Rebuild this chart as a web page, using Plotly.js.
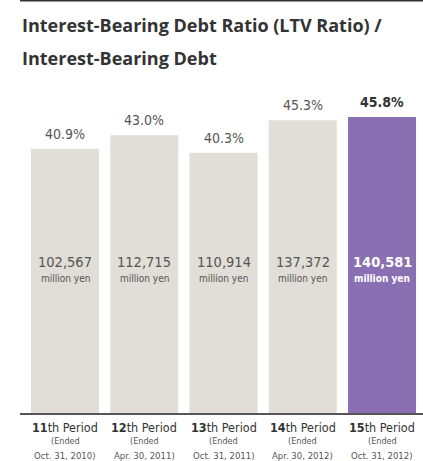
<!DOCTYPE html>
<html><head><meta charset="utf-8">
<script src="https://cdn.plot.ly/plotly-3.0.1.min.js"></script>
<style>html,body{margin:0;padding:0;background:#fff;}#chart{width:423px;height:461px;}</style>
</head><body><div id="chart"></div>
<script>
var periodNums = ["11", "12", "13", "14", "15"];
var endDates = ["Oct. 31, 2010", "Apr. 30, 2011", "Oct. 31, 2011", "Apr. 30, 2012", "Oct. 31, 2012"];
var ltvRatio = [40.9, 43.0, 40.3, 45.3, 45.8];
var debtMillionYen = [102567, 112715, 110914, 137372, 140581];
var titleLines = ["Interest-Bearing Debt Ratio (LTV Ratio) /", "Interest-Bearing Debt"];

var FONT = "'DejaVu Sans Condensed', 'Liberation Sans Narrow', 'Open Sans', sans-serif";
var TFONT = "'Open Sans', sans-serif";
var idx = periodNums.map(function(_, i){ return i; });
var last = idx.length - 1;
var colors = idx.map(function(i){ return i === last ? '#8a70b2' : '#e1ddd7'; });

var trace = {
  type: 'bar', x: idx, y: ltvRatio, width: 0.858,
  marker: {color: colors, line: {width: 0}},
  hoverinfo: 'none'
};

var ann = [];
titleLines.forEach(function(t, k){
  ann.push({x: 0, xref: 'paper', xanchor: 'left', y: k === 0 ? 1.2396 : 1.134, yref: 'paper', yanchor: 'middle',
    text: '<b>' + t + '</b>', showarrow: false,
    font: {family: TFONT, size: 18, color: '#333'}});
});
idx.forEach(function(i){
  var hl = i === last;
  ann.push({x: i, y: ltvRatio[i], xref: 'x', yref: 'y', yanchor: 'bottom', yshift: 5,
    text: hl ? '<b>' + ltvRatio[i].toFixed(1) + '%</b>' : ltvRatio[i].toFixed(1) + '%',
    showarrow: false, font: {family: FONT, size: 14, color: hl ? '#333' : '#555'}});
  ann.push({x: i, y: 0, xref: 'x', yref: 'y', yanchor: 'middle', yshift: 151,
    text: hl ? '<b>' + debtMillionYen[i].toLocaleString('en-US') + '</b>' : debtMillionYen[i].toLocaleString('en-US'),
    showarrow: false, font: {family: FONT, size: 14.5, color: hl ? '#fff' : '#555'}});
  ann.push({x: i, y: 0, xref: 'x', yref: 'y', yanchor: 'middle', yshift: 135,
    text: hl ? '<b>million yen</b>' : 'million yen',
    showarrow: false, font: {family: FONT, size: 10, color: hl ? '#fff' : '#555'}});
  ann.push({x: i, y: 0, xref: 'x', yref: 'y', yanchor: 'middle', yshift: -14,
    text: '<b>' + periodNums[i] + '</b>th Period',
    showarrow: false, font: {family: FONT, size: 12.5, color: '#333'}});
  ann.push({x: i, y: 0, xref: 'x', yref: 'y', yanchor: 'middle', yshift: -28,
    text: '(Ended', showarrow: false, font: {family: FONT, size: 9, color: '#555'}});
  ann.push({x: i, y: 0, xref: 'x', yref: 'y', yanchor: 'middle', yshift: -42,
    text: endDates[i] + ')', showarrow: false, font: {family: FONT, size: 9.5, color: '#555'}});
});

var layout = {
  width: 423, height: 461,
  margin: {l: 20, r: 0, t: 100, b: 48},
  paper_bgcolor: '#fff', plot_bgcolor: '#fff',
  showlegend: false,
  xaxis: {range: [-0.568, 4.517], showticklabels: false, ticks: '', showgrid: false, zeroline: false,
    showline: true, linecolor: '#555', linewidth: 1.5, fixedrange: true},
  yaxis: {range: [0, 48.45], visible: false, showgrid: false, zeroline: false, fixedrange: true},
  shapes: [{type: 'line', xref: 'paper', yref: 'paper', x0: 0, x1: 1, y0: 1.3175, y1: 1.3175,
    line: {color: '#333', width: 2}}],
  annotations: ann
};

Plotly.newPlot('chart', [trace], layout, {displayModeBar: false, staticPlot: true});
</script></body></html>
